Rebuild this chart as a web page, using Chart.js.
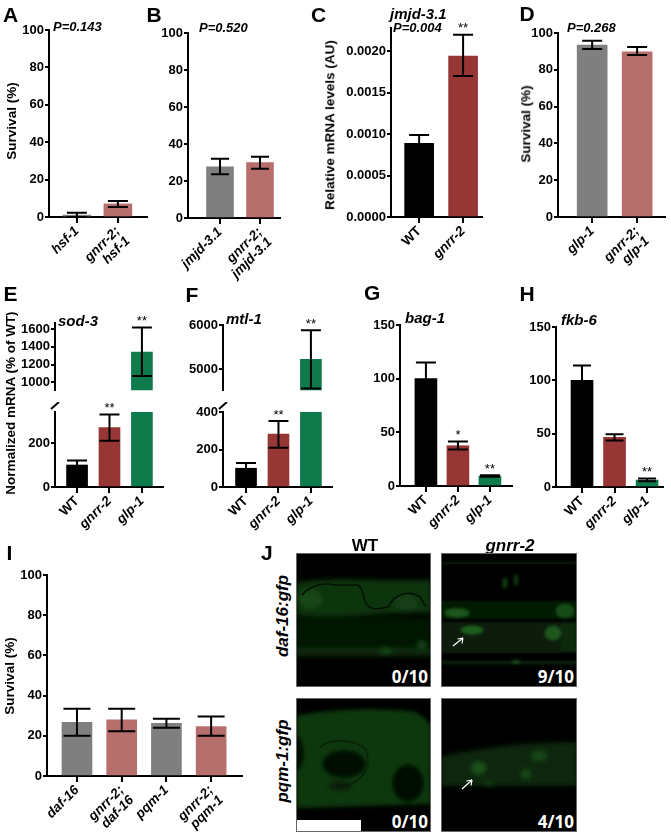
<!DOCTYPE html>
<html>
<head>
<meta charset="utf-8">
<script src="https://cdn.jsdelivr.net/npm/chart.js@4.4.1/dist/chart.umd.min.js"></script>
<style>
  body { margin: 0; background: #fff; width: 671px; height: 836px; position: relative; overflow: hidden;
         font-family: "Liberation Sans", Arial, sans-serif; }
  canvas { position: absolute; }
  .t { position: absolute; white-space: nowrap; line-height: 1; font-weight: bold; color: #000; }
  .rot { transform: translate(-50%, -50%) rotate(-90deg); }
  .img { position: absolute; }
</style>
</head>
<body>
<script>
/* ---- data ---- */
// A
const aLabels = ['hsf-1', ['gnrr-2;', 'hsf-1']];
const aValues = [1, 7];
const aLow = [0, 5.3];
const aHigh = [2.3, 8.6];
// B
const bLabels = ['jmjd-3.1', ['gnrr-2;', 'jmjd-3.1']];
const bValues = [27.7, 29.9];
const bLow = [23.6, 26.6];
const bHigh = [32, 33.1];
// C  jmjd-3.1 mRNA
const cLabels = ['WT', 'gnrr-2'];
const cValues = [0.00089, 0.00194];
const cLow = [0.0008, 0.0017];
const cHigh = [0.00099, 0.0022];
const cStars = ['', '**'];
// D
const dLabels = ['glp-1', ['gnrr-2;', 'glp-1']];
const dValues = [93.5, 89.8];
const dLow = [91.3, 88];
const dHigh = [95.8, 92.4];
// E  sod-3
const eLabels = ['WT', 'gnrr-2', 'glp-1'];
const eValues = [100, 270, 1340];
const eLow = [80, 210, 1070];
const eHigh = [120, 330, 1620];
const eStars = ['', '**', '**'];
// F  mtl-1
const fLabels = ['WT', 'gnrr-2', 'glp-1'];
const fValues = [100, 282, 5220];
const fLow = [75, 210, 4560];
const fHigh = [128, 352, 5880];
const fStars = ['', '**', '**'];
// G  bag-1
const gLabels = ['WT', 'gnrr-2', 'glp-1'];
const gValues = [100, 37.5, 9.3];
const gLow = [85, 34, 8.6];
const gHigh = [115, 41.5, 10];
const gStars = ['', '*', '**'];
// H  fkb-6
const hLabels = ['WT', 'gnrr-2', 'glp-1'];
const hValues = [100, 46.5, 6.5];
const hLow = [86, 43.5, 5.3];
const hHigh = [114, 49.5, 8];
const hStars = ['', '', '**'];
// I
const iLabels = ['daf-16', ['gnrr-2;', 'daf-16'], 'pqm-1', ['gnrr-2;', 'pqm-1']];
const iValues = [26.7, 27.9, 26.2, 24.6];
const iLow = [20, 22.3, 24, 20];
const iHigh = [33.5, 33.5, 28.5, 29.6];

/* ---- style ---- */
const FONT = '"Liberation Sans", Arial, sans-serif';
const COL = { black: '#000000', gray: '#7f7f7f', rose: '#b76f6e', red: '#963735', green: '#0f7a4b' };
Chart.defaults.font.family = FONT;

const YW = 60, PT = 10, PR = 4, XH = 70;

function makeChart(p) {
  const xh = p.noX ? 0 : XH;
  const w = YW + (p.right - p.left) + PR;
  const h = PT + (p.bottom - p.top) + xh;
  const cv = document.createElement('canvas');
  cv.width = w; cv.height = h;
  cv.style.left = (p.left - YW) + 'px';
  cv.style.top = (p.top - PT) + 'px';
  document.body.appendChild(cv);

  const errBars = {
    id: 'errBars',
    afterDatasetsDraw(chart) {
      const { ctx, scales: { x, y }, chartArea: a } = chart;
      ctx.save();
      ctx.strokeStyle = '#000';
      ctx.fillStyle = '#000';
      ctx.lineWidth = 2;
      ctx.font = '13px ' + FONT;
      ctx.textAlign = 'center';
      ctx.textBaseline = 'alphabetic';
      p.values.forEach((v, i) => {
        if (v < y.min || v > y.max) return;
        const cx = x.getPixelForValue(i);
        const lo = Math.max(p.low[i], y.min);
        const yl = y.getPixelForValue(lo);
        const yh = y.getPixelForValue(p.high[i]);
        const c = p.cap / 2;
        ctx.beginPath();
        ctx.moveTo(cx, yl); ctx.lineTo(cx, yh);
        ctx.moveTo(cx - c, yh); ctx.lineTo(cx + c, yh);
        if (p.low[i] >= y.min) { ctx.moveTo(cx - c, yl); ctx.lineTo(cx + c, yl); }
        ctx.stroke();
        if (p.stars && p.stars[i]) ctx.fillText(p.stars[i], cx, yh - 2.5);
      });
      if (p.breakMark) {
        ctx.beginPath();
        ctx.moveTo(a.left - 4, a.top - 3);
        ctx.lineTo(a.left + 4, a.top - 10);
        ctx.stroke();
      }
      ctx.restore();
    }
  };

  const tickGrid = { drawOnChartArea: false, drawTicks: true, color: '#000', lineWidth: 2, offset: false };

  return new Chart(cv, {
    type: 'bar',
    data: {
      datasets: [{
        data: p.values.map((v, i) => ({ x: i, y: v })),
        backgroundColor: p.colors,
        barThickness: p.barW,
        borderWidth: 0,
        clip: 0
      }]
    },
    options: {
      responsive: false,
      animation: false,
      layout: { padding: { top: PT, right: PR, left: 0, bottom: 0 } },
      plugins: { legend: { display: false }, tooltip: { enabled: false } },
      scales: {
        x: {
          type: 'linear', display: !p.noX, offset: false, bounds: 'data',
          min: p.xMin, max: p.xMax,
          afterBuildTicks: s => { s.ticks = p.labels.map((l, i) => ({ value: i })); },
          afterFit: s => { s.height = xh; },
          grid: Object.assign({}, tickGrid, { tickLength: 6 }),
          border: { color: '#000', width: 2 },
          ticks: {
            autoSkip: false, maxRotation: 45, minRotation: 45, color: '#000', padding: 1,
            font: c => ({ family: FONT, size: 13.5, weight: 'bold',
                          style: p.labels[c.index] === 'WT' ? 'normal' : 'italic', lineHeight: 1.05 }),
            callback: (v, i) => p.labels[i]
          }
        },
        y: {
          min: p.yMin, max: p.yMax,
          afterBuildTicks: s => {
            const t = [];
            for (let k = Math.ceil(p.yMin / p.step - 1e-9); k * p.step <= p.yMax + 1e-12; k++) t.push({ value: k * p.step });
            s.ticks = t;
          },
          afterFit: s => { s.width = YW; },
          grid: Object.assign({}, tickGrid, { tickLength: 4 }),
          border: { color: '#000', width: 2 },
          ticks: {
            autoSkip: false, color: '#000', padding: 1,
            font: { family: FONT, size: 13, weight: 'bold' },
            callback: p.fmt || (v => String(Math.round(v)))
          }
        }
      }
    },
    plugins: [errBars]
  });
}

function txt(s, x, cy, size, extra) {
  const d = document.createElement('div');
  d.className = 't';
  d.textContent = s;
  d.style.left = x + 'px';
  d.style.top = (cy - size / 2) + 'px';
  d.style.fontSize = size + 'px';
  if (extra) Object.assign(d.style, extra);
  document.body.appendChild(d);
  return d;
}
function vtxt(s, cx, cy, size, extra) {
  const d = document.createElement('div');
  d.className = 't rot';
  d.textContent = s;
  d.style.left = cx + 'px';
  d.style.top = cy + 'px';
  d.style.fontSize = size + 'px';
  if (extra) Object.assign(d.style, extra);
  document.body.appendChild(d);
  return d;
}
const IT = { fontStyle: 'italic' };

/* ---- row 1 ---- */
makeChart({ labels: aLabels, values: aValues, low: aLow, high: aHigh, colors: [COL.gray, COL.rose],
  left: 49, right: 147, top: 30, bottom: 217, yMin: 0, yMax: 100, step: 20,
  xMin: -0.68, xMax: 1.71, barW: 28, cap: 20 });
makeChart({ labels: bLabels, values: bValues, low: bLow, high: bHigh, colors: [COL.gray, COL.rose],
  left: 188, right: 280, top: 33, bottom: 218, yMin: 0, yMax: 100, step: 20,
  xMin: -0.8, xMax: 1.5, barW: 27, cap: 18 });
makeChart({ labels: cLabels, values: cValues, low: cLow, high: cHigh, stars: cStars, colors: [COL.black, COL.red],
  left: 391, right: 482, top: 28, bottom: 217, yMin: 0, yMax: 0.00228, step: 0.0005,
  xMin: -0.64, xMax: 1.43, barW: 29, cap: 20, fmt: v => v.toFixed(4) });
makeChart({ labels: dLabels, values: dValues, low: dLow, high: dHigh, colors: [COL.gray, COL.rose],
  left: 558, right: 665, top: 33, bottom: 217, yMin: 0, yMax: 100, step: 20,
  xMin: -0.76, xMax: 1.62, barW: 30, cap: 20 });

/* ---- row 2 (E and F have a broken axis: two stacked charts) ---- */
const threeCols = [COL.black, COL.red, COL.green];
makeChart({ labels: eLabels, values: eValues, low: eLow, high: eHigh, stars: eStars, colors: threeCols,
  left: 55, right: 163, top: 323, bottom: 399, yMin: 910, yMax: 1670, step: 200, noX: true,
  xMin: -0.68, xMax: 2.65, barW: 21, cap: 20 });
makeChart({ labels: eLabels, values: eValues, low: eLow, high: eHigh, stars: eStars, colors: threeCols,
  left: 55, right: 163, top: 412, bottom: 487, yMin: 0, yMax: 341, step: 200, breakMark: true,
  xMin: -0.68, xMax: 2.65, barW: 21, cap: 20 });
makeChart({ labels: fLabels, values: fValues, low: fLow, high: fHigh, stars: fStars, colors: threeCols,
  left: 223, right: 332, top: 325, bottom: 399, yMin: 4520, yMax: 6000, step: 1000, noX: true,
  xMin: -0.71, xMax: 2.65, barW: 21, cap: 20 });
makeChart({ labels: fLabels, values: fValues, low: fLow, high: fHigh, stars: fStars, colors: threeCols,
  left: 223, right: 332, top: 412, bottom: 487, yMin: 0, yMax: 400, step: 200, breakMark: true,
  xMin: -0.71, xMax: 2.65, barW: 21, cap: 20 });
makeChart({ labels: gLabels, values: gValues, low: gLow, high: gHigh, stars: gStars, colors: threeCols,
  left: 400, right: 512, top: 325, bottom: 486, yMin: 0, yMax: 150, step: 50,
  xMin: -0.81, xMax: 2.69, barW: 22, cap: 20 });
makeChart({ labels: hLabels, values: hValues, low: hLow, high: hHigh, stars: hStars, colors: threeCols,
  left: 556, right: 663, top: 327, bottom: 487, yMin: 0, yMax: 150, step: 50,
  xMin: -0.8, xMax: 2.49, barW: 22, cap: 18 });

/* ---- row 3 ---- */
makeChart({ labels: iLabels, values: iValues, low: iLow, high: iHigh,
  colors: [COL.gray, COL.rose, COL.gray, COL.rose],
  left: 47, right: 242, top: 575, bottom: 776, yMin: 0, yMax: 100, step: 20,
  xMin: -0.67, xMax: 3.69, barW: 30, cap: 27 });

/* ---- panel letters ---- */
[['A', 3, 14], ['B', 146.5, 14], ['C', 311, 14.5], ['D', 519.5, 13.5],
 ['E', 3.5, 293.5], ['F', 185.5, 294], ['G', 364, 292.5], ['H', 519.5, 293.5],
 ['I', 6.5, 552], ['J', 261, 552]].forEach(([s, x, y]) => txt(s, x, y, 21));

/* ---- titles, p values ---- */
txt('P=0.143', 53, 26.5, 13, IT);
txt('P=0.520', 199, 27, 13, IT);
txt('jmjd-3.1', 390, 13, 15, IT);
txt('P=0.004', 393, 27, 13, IT);
txt('P=0.268', 567, 27, 13, IT);
txt('sod-3', 58, 320, 15, IT);
txt('mtl-1', 226, 318, 15, IT);
txt('bag-1', 405, 317, 15, IT);
txt('fkb-6', 561, 319, 15, IT);

/* ---- axis titles ---- */
vtxt('Survival (%)', 12, 121, 13.5);
vtxt('Relative mRNA levels (AU)', 330, 125, 13.5);
vtxt('Survival (%)', 526, 124, 13.5);
vtxt('Normalized mRNA (% of WT)', 11, 403, 13.5);
vtxt('Survival (%)', 10, 676, 13.5);

/* ---- panel J labels ---- */
txt('WT', 365, 545, 17, { transform: 'translateX(-50%)' });
txt('gnrr-2', 510, 545, 17, { transform: 'translateX(-50%)', fontStyle: 'italic' });
vtxt('daf-16:gfp', 282, 616, 17, IT);
vtxt('pqm-1:gfp', 282, 761, 17, IT);
</script>

<!-- panel J: fluorescence micrographs (schematic) -->
<svg class="img" style="left:296px;top:553px" width="135" height="134" viewBox="0 0 135 134">
  <defs><filter id="f1" x="-10%" y="-10%" width="120%" height="120%"><feGaussianBlur stdDeviation="2.5"/></filter></defs>
  <rect width="135" height="134" fill="#000"/>
  <g filter="url(#f1)">
    <path d="M0 30 C30 24 60 28 135 27 L135 60 C90 58 50 66 0 62 Z" fill="#103410"/>
    <rect x="0" y="64" width="135" height="31" fill="#041204"/>
    <rect x="0" y="95" width="135" height="8" fill="#0b2a0c"/>
    <ellipse cx="14" cy="46" rx="12" ry="10" fill="#154415"/>
    <ellipse cx="110" cy="50" rx="12" ry="9" fill="#123c13"/>
    <ellipse cx="90" cy="98" rx="6" ry="3" fill="#164a18"/>
    <ellipse cx="126" cy="92" rx="5" ry="4" fill="#134014"/>
  </g>
  <path d="M6 42 C16 30 30 30 40 32 L62 32 C70 36 64 55 80 56 L92 54 C98 42 112 36 124 44 L130 54" stroke="#041004" stroke-width="1.5" fill="none"/>
  <rect x="0.5" y="0.5" width="134" height="133" fill="none" stroke="#666" stroke-width="1"/>
  <text x="132" y="130" text-anchor="end" fill="#fff" font-family="Open Sans, Liberation Sans" font-weight="bold" font-size="17">0/10</text>
</svg>

<svg class="img" style="left:441px;top:553px" width="136" height="134" viewBox="0 0 136 134">
  <defs><filter id="f2" x="-10%" y="-10%" width="120%" height="120%"><feGaussianBlur stdDeviation="1.8"/></filter></defs>
  <rect width="136" height="134" fill="#000"/>
  <g filter="url(#f2)">
    <rect x="0" y="9" width="136" height="2" fill="#082008"/>
    <ellipse cx="64" cy="30" rx="3" ry="6" fill="#0f360f"/>
    <ellipse cx="75" cy="27" rx="2.5" ry="6" fill="#0f360f"/>
    <rect x="0" y="48" width="136" height="18" fill="#061b06"/>
    <ellipse cx="16" cy="60" rx="12" ry="4.5" fill="#1a561b"/>
    <ellipse cx="124" cy="58" rx="9" ry="7" fill="#184e19"/>
    <rect x="0" y="69" width="136" height="31" fill="#071f07"/>
    <ellipse cx="31" cy="77" rx="11" ry="4" fill="#1d5f1d"/>
    <ellipse cx="112" cy="80" rx="8" ry="7" fill="#1a561b"/>
    <rect x="120" y="70" width="16" height="28" fill="#0b2b0b"/>
    <rect x="0" y="108" width="136" height="3" fill="#0a260a"/>
    <ellipse cx="75" cy="109" rx="4" ry="2" fill="#18521a"/>
  </g>
  <rect x="0" y="67" width="136" height="1.5" fill="#020802"/>
  <path d="M12 93 L22 85 M22 85 L16.5 86 M22 85 L21 90.5" stroke="#fff" stroke-width="1.2" fill="none"/>
  <rect x="0.5" y="0.5" width="135" height="133" fill="none" stroke="#666" stroke-width="1"/>
  <text x="133" y="130" text-anchor="end" fill="#fff" font-family="Open Sans, Liberation Sans" font-weight="bold" font-size="17">9/10</text>
</svg>

<svg class="img" style="left:296px;top:698px" width="135" height="134" viewBox="0 0 135 134">
  <defs><filter id="f3" x="-10%" y="-10%" width="120%" height="120%"><feGaussianBlur stdDeviation="2"/></filter></defs>
  <rect width="135" height="134" fill="#000"/>
  <g filter="url(#f3)">
    <path d="M0 18 C40 10 90 10 120 14 C130 20 135 26 135 30 L135 106 L0 110 Z" fill="#0f380f"/>
    <ellipse cx="48" cy="66" rx="22" ry="14" fill="#020802"/>
    <ellipse cx="112" cy="85" rx="16" ry="19" fill="#030a03"/>
    <ellipse cx="1" cy="55" rx="7" ry="17" fill="#020802"/>
    <ellipse cx="44" cy="88" rx="12" ry="5" fill="#071e07"/>
  </g>
  <path d="M24 50 C30 40 60 40 70 52 C76 70 66 86 46 88" stroke="#092409" stroke-width="2" fill="none"/>
  <rect x="1" y="122" width="64" height="11" fill="#fff"/>
  <rect x="0.5" y="0.5" width="134" height="133" fill="none" stroke="#666" stroke-width="1"/>
  <text x="132" y="130" text-anchor="end" fill="#fff" font-family="Open Sans, Liberation Sans" font-weight="bold" font-size="17">0/10</text>
</svg>

<svg class="img" style="left:441px;top:698px" width="136" height="134" viewBox="0 0 136 134">
  <defs><filter id="f4" x="-10%" y="-10%" width="120%" height="120%"><feGaussianBlur stdDeviation="2.5"/></filter></defs>
  <rect width="136" height="134" fill="#000"/>
  <g filter="url(#f4)">
    <path d="M0 58 C30 52 50 50 60 48 C80 46 100 44 136 44 L136 88 L0 88 Z" fill="#0a260a"/>
    <ellipse cx="38" cy="70" rx="7" ry="6" fill="#1a521a"/>
    <ellipse cx="85" cy="76" rx="5" ry="5" fill="#164817"/>
    <ellipse cx="98" cy="58" rx="8" ry="5" fill="#164617"/>
    <ellipse cx="48" cy="86" rx="6" ry="2.5" fill="#134014"/>
  </g>
  <path d="M21 91 L31 82 M31 82 L25.5 83 M31 82 L30 87.5" stroke="#fff" stroke-width="1.2" fill="none"/>
  <rect x="0.5" y="0.5" width="135" height="133" fill="none" stroke="#666" stroke-width="1"/>
  <text x="133" y="130" text-anchor="end" fill="#fff" font-family="Open Sans, Liberation Sans" font-weight="bold" font-size="17">4/10</text>
</svg>
</body>
</html>
